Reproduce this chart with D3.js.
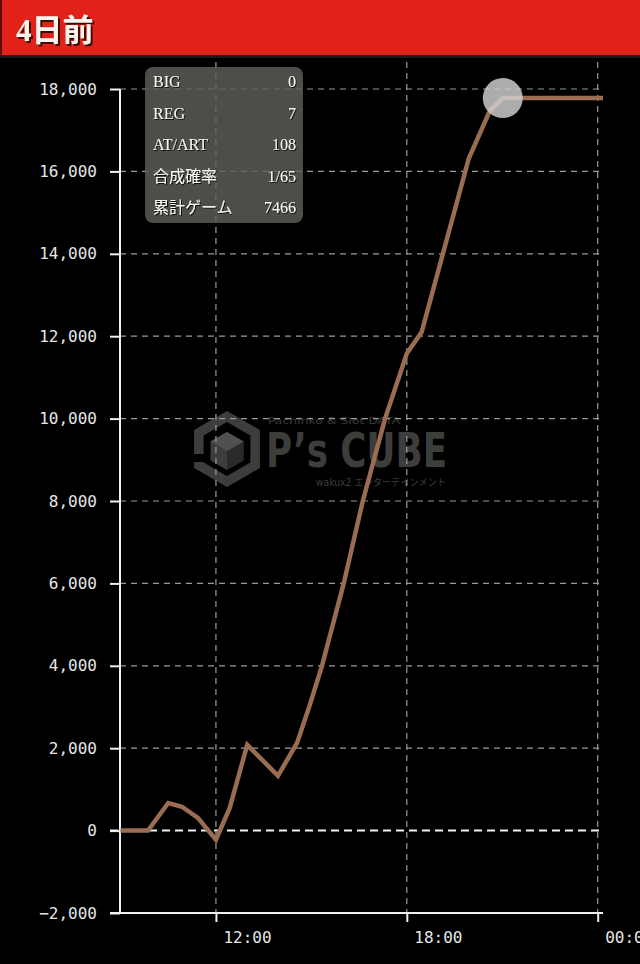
<!DOCTYPE html>
<html>
<head>
<meta charset="utf-8">
<script src="https://cdn.jsdelivr.net/npm/d3@7"></script>
<style>
  html, body { margin: 0; padding: 0; background: #000; }
  svg { display: block; }
</style>
</head>
<body>
<svg id="chart" width="640" height="964"></svg>
<script>
// Day title
const title = "4日前";

// Cumulative difference over the day (time of sample, coins)
const times = ["09:00","09:52","10:30","10:56","11:26","12:00","12:26","12:59","13:57","14:33","14:57",
               "15:20","16:01","16:37","17:19","18:00","18:28","19:08","19:57","20:37","21:01","24:10"];
const diffs = [0,0,670,580,310,-220,550,2080,1330,2130,3050,
               4000,6000,8000,10000,11580,12100,14000,16320,17480,17780,17780];

// Summary box
const statLabels = ["BIG","REG","AT/ART","合成確率","累計ゲーム"];
const statValues = ["0","7","108","1/65","7466"];

// Axis ticks
const yTicks = [-2000,0,2000,4000,6000,8000,10000,12000,14000,16000,18000];
const xTickLabels = ["12:00","18:00","00:00"];

const toDate = s => { const [h, m] = s.split(":").map(Number); return new Date(2024, 0, 1, h, m); };
const data = times.map((t, i) => ({ t: toDate(t), v: diffs[i] }));

const svg = d3.select("#chart");
const W = 640, H = 964;

// Shadows for the title and the summary text
const defs = svg.append("defs");
defs.append("filter").attr("id", "titleShadow").attr("x", "-10%").attr("y", "-10%").attr("width", "130%").attr("height", "140%")
  .append("feDropShadow").attr("dx", 2).attr("dy", 2).attr("stdDeviation", 0.6).attr("flood-color", "#3a0705").attr("flood-opacity", 1);
defs.append("filter").attr("id", "textShadow").attr("x", "-10%").attr("y", "-20%").attr("width", "130%").attr("height", "150%")
  .append("feDropShadow").attr("dx", 1).attr("dy", 1).attr("stdDeviation", 0.5).attr("flood-color", "#111").attr("flood-opacity", 1);

// Header band
const header = svg.append("g");
header.append("rect").attr("x", 0).attr("y", 0).attr("width", W).attr("height", 56).attr("fill", "#e1221a");
header.append("rect").attr("x", 0).attr("y", 0).attr("width", 2).attr("height", 56).attr("fill", "#5a0e0a");
header.append("rect").attr("x", 0).attr("y", 55).attr("width", W).attr("height", 3).attr("fill", "#1a1a1a");
header.append("text").attr("x", 16).attr("y", 41).text(title)
  .attr("font-family", "'Liberation Serif', 'Noto Sans CJK JP', serif").attr("font-weight", "bold")
  .attr("font-size", 31).attr("fill", "#fbf3ee").attr("filter", "url(#titleShadow)");

// Scales
const x = d3.scaleTime().domain([toDate("09:00"), toDate("24:10")]).range([120.5, 603]);
const y = d3.scaleLinear().domain([-2000, 18000]).range([913, 89]);

// Watermark logo
const wm = svg.append("g").attr("fill", "#3d3d3b");
const hex = (cx, cy, r) => d3.range(6).map(k => {
  const a = Math.PI / 3 * k - Math.PI / 2;
  return [cx + r * Math.cos(a), cy + r * Math.sin(a)];
});
const cx0 = 227, cy0 = 449;
wm.append("path").attr("fill-rule", "evenodd")
  .attr("d", "M" + hex(cx0, cy0, 38).join("L") + "Z M" + hex(cx0, cy0, 27).join("L") + "Z");
wm.append("path").attr("d", "M" + hex(cx0, cy0 + 2, 19).join("L") + "Z");
wm.append("path").attr("fill", "#2a2a29")
  .attr("d", `M${cx0},${cy0 + 2} L${cx0 + 16.5},${cy0 - 7.5} L${cx0 + 16.5},${cy0 + 11.5} L${cx0},${cy0 + 21} Z`);
wm.append("path").attr("fill", "#505050")
  .attr("d", `M${cx0},${cy0 + 2} L${cx0 - 16.5},${cy0 - 7.5} L${cx0},${cy0 - 17} L${cx0 + 16.5},${cy0 - 7.5} Z`);
wm.append("rect").attr("x", cx0 - 40).attr("y", cy0 + 5).attr("width", 18).attr("height", 8).attr("fill", "#000");
wm.append("text").attr("x", 266).attr("y", 467).text("P’s CUBE")
  .attr("font-family", "'DejaVu Sans', sans-serif").attr("font-weight", "bold").attr("font-size", 48)
  .attr("textLength", 181).attr("lengthAdjust", "spacingAndGlyphs");
wm.append("text").attr("x", 268).attr("y", 424).text("Pachinko & Slot DATA")
  .attr("font-family", "'DejaVu Sans Condensed', sans-serif").attr("font-size", 9)
  .attr("textLength", 132).attr("lengthAdjust", "spacingAndGlyphs");
wm.append("text").attr("x", 316).attr("y", 486).text("wakux2 エンターテインメント")
  .attr("font-family", "'DejaVu Sans', 'Noto Sans CJK JP', sans-serif").attr("font-size", 10)
  .attr("textLength", 130).attr("lengthAdjust", "spacingAndGlyphs");

// Grid
const grid = svg.append("g");
grid.selectAll("line.h").data(yTicks.filter(d => d !== 0)).join("line")
  .attr("x1", 120).attr("x2", 603).attr("y1", d => y(d)).attr("y2", d => y(d))
  .attr("stroke", "#9a9a9a").attr("stroke-width", 1.2).attr("stroke-dasharray", "6,5");
const xTickDates = x.ticks(d3.timeHour.every(6));
grid.selectAll("line.v").data(xTickDates).join("line")
  .attr("x1", d => x(d)).attr("x2", d => x(d)).attr("y1", 62).attr("y2", 913)
  .attr("stroke", "#9a9a9a").attr("stroke-width", 1.2).attr("stroke-dasharray", "6,5");
grid.append("line").attr("x1", 110).attr("x2", 603).attr("y1", y(0)).attr("y2", y(0))
  .attr("stroke", "#f2f2f2").attr("stroke-width", 2).attr("stroke-dasharray", "8,5");

// Axes
const yAxis = d3.axisLeft(y).tickValues(yTicks).tickFormat(d3.format(",")).tickSize(10).tickPadding(13);
const gy = svg.append("g").attr("transform", "translate(120,0)").call(yAxis);
const xAxis = d3.axisBottom(x).tickValues(xTickDates).tickFormat(d3.timeFormat("%H:%M")).tickSizeInner(9).tickSizeOuter(0);
const gx = svg.append("g").attr("transform", "translate(0,913)").call(xAxis);
[gx, gy].forEach(g => {
  g.select(".domain").attr("stroke", "#f0f0f0").attr("stroke-width", 2);
  g.selectAll(".tick line").attr("stroke", "#f0f0f0").attr("stroke-width", 2);
  g.selectAll(".tick text").attr("fill", "#e6e6e6")
    .attr("font-family", "'DejaVu Sans Mono', monospace").attr("font-size", 16);
});
gy.select(".domain").attr("d", "M0,913V89");
gx.select(".domain").attr("d", "M110,0H603");
gx.selectAll(".tick text").attr("text-anchor", "start").attr("x", 7).attr("y", 0).attr("dy", "30px");

// Line
svg.append("path").datum(data)
  .attr("d", d3.line().x(d => x(d.t)).y(d => y(d.v)))
  .attr("fill", "none").attr("stroke", "#9a6c52").attr("stroke-width", 4.5).attr("stroke-linejoin", "miter");

// Marker at the point where the peak is first reached
const peak = data[d3.maxIndex(data, d => d.v)];
svg.append("circle").attr("cx", x(peak.t)).attr("cy", y(peak.v)).attr("r", 20)
  .attr("fill", "#d2d2d2").attr("fill-opacity", 0.82);

// Summary box
const box = svg.append("g");
box.append("rect").attr("x", 145).attr("y", 67).attr("width", 158).attr("height", 156).attr("rx", 8)
  .attr("fill", "#5e5e59").attr("fill-opacity", 0.82);
const rowY = i => 87 + i * 31.5;
const statFont = "'Liberation Serif', 'Noto Sans CJK JP', serif";
const rows = box.append("g").attr("filter", "url(#textShadow)").attr("fill", "#f4f4f0")
  .attr("font-family", statFont).attr("font-size", 16);
rows.selectAll(null).data(statLabels).join("text")
  .attr("x", 153).attr("y", (d, i) => rowY(i)).text(d => d);
rows.selectAll(null).data(statValues).join("text")
  .attr("x", 296).attr("y", (d, i) => rowY(i)).attr("text-anchor", "end").text(d => d);
</script>
</body>
</html>
